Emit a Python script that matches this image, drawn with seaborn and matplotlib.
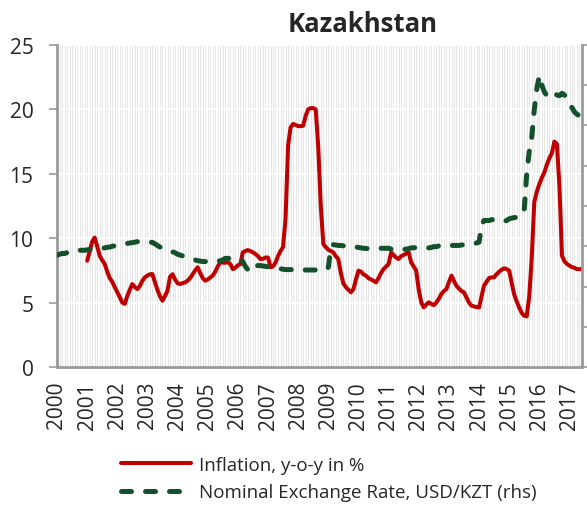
import pandas as pd
import seaborn as sns
import matplotlib.pyplot as plt
import matplotlib.dates as mdates
from matplotlib.ticker import MultipleLocator

sns.set_style("white")
plt.rcParams['font.family'] = ['Open Sans', 'DejaVu Sans']

# Inflation, y-o-y in %, monthly from Jan 2001
infl_2001 = [8.25, 9.0, 9.7, 10.05, 9.4, 8.64, 8.3, 8.0, 7.4, 6.9, 6.6, 6.2]
infl_2002 = [5.8, 5.4, 5.0, 4.9, 5.5, 6.0, 6.44, 6.2, 6.05, 6.3, 6.7, 6.96]
infl_2003 = [7.1, 7.2, 7.22, 6.6, 6.0, 5.5, 5.15, 5.5, 5.93, 7.0, 7.2, 6.8]
infl_2004 = [6.5, 6.44, 6.5, 6.57, 6.7, 6.9, 7.2, 7.5, 7.74, 7.3, 6.9, 6.7]
infl_2005 = [6.8, 6.95, 7.09, 7.4, 7.8, 8.13, 8.1, 8.1, 8.13, 8.0, 7.6, 7.7]
infl_2006 = [7.9, 8.0, 8.9, 9.0, 9.08, 9.0, 8.9, 8.77, 8.6, 8.38, 8.4, 8.5]
infl_2007 = [8.5, 7.74, 7.8, 8.1, 8.6, 9.0, 9.3, 11.5, 17.2, 18.6, 18.87, 18.8]
infl_2008 = [18.7, 18.7, 18.73, 19.5, 20.0, 20.1, 20.1, 20.0, 17.0, 12.5, 9.55, 9.3]
infl_2009 = [9.1, 9.0, 8.9, 8.6, 8.38, 7.3, 6.5, 6.2, 6.0, 5.8, 6.05, 6.8]
infl_2010 = [7.48, 7.4, 7.2, 7.09, 6.9, 6.8, 6.7, 6.57, 6.9, 7.3, 7.6, 7.8]
infl_2011 = [8.0, 8.9, 8.7, 8.5, 8.38, 8.6, 8.7, 8.8, 8.9, 8.13, 7.8, 7.48]
infl_2012 = [6.0, 5.0, 4.63, 4.85, 5.02, 4.9, 4.8, 5.0, 5.3, 5.67, 5.9, 6.05]
infl_2013 = [6.6, 7.09, 6.7, 6.31, 6.1, 5.9, 5.8, 5.4, 5.0, 4.76, 4.7, 4.65]
infl_2014 = [4.63, 5.5, 6.31, 6.6, 6.9, 6.96, 6.96, 7.2, 7.4, 7.55, 7.66, 7.6]
infl_2015 = [7.48, 6.5, 5.67, 5.1, 4.63, 4.2, 3.98, 3.93, 5.5, 8.5, 12.8, 13.6]
infl_2016 = [14.2, 14.7, 15.1, 15.7, 16.2, 16.6, 17.5, 17.3, 14.0, 8.64, 8.2, 8.0]
infl_2017 = [7.86, 7.75, 7.7, 7.6, 7.6, 7.6]

# Nominal exchange rate, USD/KZT, monthly from Jan 2000
fx_2000 = [139, 140, 141, 141, 142, 142, 143, 144, 144, 145, 145, 145]
fx_2001 = [145.5, 146, 146, 146.6, 147, 147, 147.5, 148, 148.7, 149, 150, 150.5]
fx_2002 = [151, 151.5, 152, 152.8, 153.5, 154, 154.5, 155, 155.7, 155.7, 155.7, 155.7]
fx_2003 = [155.5, 155, 154.9, 153, 151, 149, 148, 146.6, 145, 144, 143, 142]
fx_2004 = [140, 139, 138, 137, 136, 135, 134, 133, 132, 131.5, 131, 131]
fx_2005 = [131, 131, 131, 131, 131.5, 132, 133, 135, 135, 134.5, 134, 134]
fx_2006 = [134, 134, 131, 125, 121, 118, 121, 125, 126, 126, 125.5, 125]
fx_2007 = [124.5, 124, 123.5, 123, 122.5, 122, 121.5, 121, 121, 121, 121, 120.5]
fx_2008 = [120.5, 120.5, 120.5, 120.5, 120.5, 120.5, 120.5, 120.5, 120.5, 120.5, 120.5, 120.5]
fx_2009 = [124, 148, 152, 151.5, 151, 151, 150.5, 150.5, 150.5, 150, 149.5, 149]
fx_2010 = [148.5, 148, 147.5, 147.2, 147, 147.3, 147.5, 147.5, 147.5, 147.5, 147.5, 147.5]
fx_2011 = [147.5, 146.5, 146.5, 146.5, 146, 146, 146, 146.5, 147, 148, 148, 148.5]
fx_2012 = [148.5, 148.5, 148.5, 148.5, 148, 148.5, 149.5, 149.5, 150.5, 150.5, 151, 151]
fx_2013 = [151, 151, 151, 151, 151, 151.5, 152, 152.5, 152.8, 153.5, 153.5, 154]
fx_2014 = [155, 176, 182, 182, 182, 183, 183, 182, 182, 181, 181, 182]
fx_2015 = [184, 185, 185.5, 186, 187, 188, 194, 240, 268, 285, 320, 345]
fx_2016 = [362, 350, 342, 337, 335, 337, 340, 338, 337, 340, 338, 332]
fx_2017 = [326, 322, 317, 314, 312, 311]

inflation = (infl_2001 + infl_2002 + infl_2003 + infl_2004 + infl_2005 + infl_2006
             + infl_2007 + infl_2008 + infl_2009 + infl_2010 + infl_2011 + infl_2012
             + infl_2013 + infl_2014 + infl_2015 + infl_2016 + infl_2017)
exchange = (fx_2000 + fx_2001 + fx_2002 + fx_2003 + fx_2004 + fx_2005 + fx_2006
            + fx_2007 + fx_2008 + fx_2009 + fx_2010 + fx_2011 + fx_2012 + fx_2013
            + fx_2014 + fx_2015 + fx_2016 + fx_2017)

df_infl = pd.DataFrame({"date": pd.date_range("2001-01-01", periods=len(inflation), freq="MS"),
                        "value": inflation})
df_fx = pd.DataFrame({"date": pd.date_range("2000-01-01", periods=len(exchange), freq="MS"),
                      "value": exchange})

RED = "#C00000"
GREEN = "#14502A"
GREY = "#9A9A9A"

fig = plt.figure(figsize=(5.87, 5.06), dpi=100)
ax = fig.add_axes([57 / 587, 138 / 506, 525 / 587, 322 / 506])
ax2 = ax.twinx()

sns.lineplot(data=df_infl, x="date", y="value", ax=ax, color=RED, linewidth=2.9,
             label="Inflation, y-o-y in %")
sns.lineplot(data=df_fx, x="date", y="value", ax=ax2, color=GREEN, linewidth=3.6,
             label="Nominal Exchange Rate, USD/KZT (rhs)")
ax2.lines[0].set_dashes((2.0, 2.8))
ax2.lines[0].set_dash_capstyle("round")

ax.set_xlim(pd.Timestamp("2000-01-01"), pd.Timestamp("2017-06-01"))
ax.set_ylim(0, 25)
ax2.set_ylim(0, 400)
ax.yaxis.set_major_locator(MultipleLocator(5))
ax2.yaxis.set_major_locator(MultipleLocator(50))

ax.xaxis.set_major_locator(mdates.YearLocator())
ax.xaxis.set_major_formatter(mdates.DateFormatter("%Y"))
ax.xaxis.set_minor_locator(mdates.MonthLocator())

ax.set_xlabel("")
ax.set_ylabel("")
ax2.set_ylabel("")

# grid: light grey monthly verticals, white horizontals
ax.grid(axis="x", which="both", color="#e6e6e6", linewidth=0.8)
ax.grid(axis="y", which="major", color="white", linewidth=1.6)
ax.set_axisbelow(True)
ax2.grid(False)

for a in (ax, ax2):
    for s in a.spines.values():
        s.set_visible(False)
ax.spines["left"].set_visible(True)
ax.spines["bottom"].set_visible(True)
ax2.spines["right"].set_visible(True)
for s in (ax.spines["left"], ax.spines["bottom"], ax2.spines["right"]):
    s.set_color(GREY)
    s.set_linewidth(2.0)

ax.tick_params(axis="y", which="major", direction="out", length=6, width=1.2,
               color=GREY, labelsize=15, pad=11)
ax.tick_params(axis="x", which="both", direction="out", length=6, width=1.0,
               color=GREY, labelsize=15, pad=4, labelrotation=90)
ax2.tick_params(axis="y", direction="out", length=6, width=1.2, color=GREY,
                labelright=False)

fig.text(363 / 587, 1 - 32 / 506, "Kazakhstan", ha="center", va="baseline",
         fontsize=18.5, fontweight="bold")

h1, l1 = ax.get_legend_handles_labels()
h2, l2 = ax2.get_legend_handles_labels()
ax.get_legend().remove()
ax2.get_legend().remove()
fig.legend(h1 + h2, l1 + l2, loc="upper left", bbox_to_anchor=(121 / 587, 1 - 457 / 506),
           frameon=False, fontsize=13.5, handlelength=3.73, handletextpad=0.43,
           labelspacing=0.5, borderpad=0, borderaxespad=0)

fig.savefig("out.png", dpi=100)
